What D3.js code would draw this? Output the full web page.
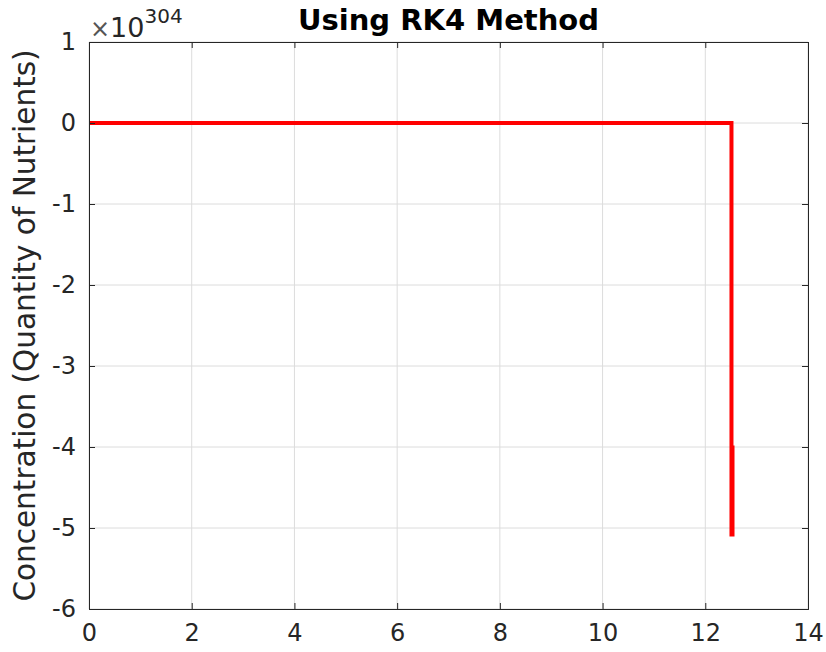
<!DOCTYPE html>
<html>
<head>
<meta charset="utf-8">
<script src="https://cdn.jsdelivr.net/npm/d3@7"></script>
<style>
  body { margin: 0; background: #fff; }
  svg text { font-family: "DejaVu Sans", sans-serif; fill: #262626; }
</style>
</head>
<body>
<div id="chart"></div>
<script>
// time values and concentration (in units of 1e304)
const timeVals = [0, 12.5, 12.51, 12.51, 12.53, 12.53]
const concVals = [0, 0, 0, -5.08, -5.08, -3.98]
const xTicks = [0, 2, 4, 6, 8, 10, 12, 14]
const yTicks = [1, 0, -1, -2, -3, -4, -5, -6]

const width = 826
const height = 652
const margin = {top: 42, right: 18, bottom: 43, left: 89}

const svg = d3.select('#chart').append('svg')
  .attr('width', width)
  .attr('height', height)

const x = d3.scaleLinear().domain([0, 14]).range([margin.left, width - margin.right])
const y = d3.scaleLinear().domain([-6, 1]).range([height - margin.bottom, margin.top])

// grid
const grid = svg.append('g').attr('class', 'grid')
grid.selectAll('line.vx').data(xTicks).enter().append('line')
  .attr('x1', d => x(d)).attr('x2', d => x(d))
  .attr('y1', y(1)).attr('y2', y(-6))
  .attr('stroke', '#dcdcdc').attr('stroke-width', 1)
grid.selectAll('line.hy').data(yTicks).enter().append('line')
  .attr('y1', d => y(d)).attr('y2', d => y(d))
  .attr('x1', x(0)).attr('x2', x(14))
  .attr('stroke', '#dcdcdc').attr('stroke-width', 1)

// data line
const line = d3.line().x((d, i) => x(timeVals[i])).y(d => y(d))
svg.append('path')
  .datum(concVals)
  .attr('d', line)
  .attr('fill', 'none')
  .attr('stroke', '#ff0000')
  .attr('stroke-width', 4)

// axes
const fmt = d => String(d)
const xAxis = d3.axisBottom(x).tickValues(xTicks).tickSize(-6).tickPadding(12).tickFormat(fmt)
const yAxis = d3.axisLeft(y).tickValues(yTicks).tickSize(-6).tickPadding(12).tickFormat(fmt)

const gx = svg.append('g')
  .attr('transform', `translate(0, ${y(-6)})`)
  .call(xAxis)
gx.select('.domain').attr('stroke', '#262626')
gx.selectAll('.tick line').attr('stroke', '#262626')
gx.selectAll('text').attr('font-size', 24).attr('y', 10).attr('dy', '0.9em').style('fill', '#262626')

const gy = svg.append('g')
  .attr('transform', `translate(${x(0)}, 0)`)
  .call(yAxis)
gy.select('.domain').attr('stroke', '#262626')
gy.selectAll('.tick line').attr('stroke', '#262626')
gy.selectAll('text').attr('font-size', 24).attr('x', -13).style('fill', '#262626')

// top and right box edges with ticks
const gxTop = svg.append('g')
  .attr('transform', `translate(0, ${y(1)})`)
  .call(d3.axisTop(x).tickValues(xTicks).tickSize(-6).tickFormat(''))
gxTop.select('.domain').attr('stroke', '#262626')
gxTop.selectAll('.tick line').attr('stroke', '#262626')

const gyRight = svg.append('g')
  .attr('transform', `translate(${x(14)}, 0)`)
  .call(d3.axisRight(y).tickValues(yTicks).tickSize(-6).tickFormat(''))
gyRight.select('.domain').attr('stroke', '#262626')
gyRight.selectAll('.tick line').attr('stroke', '#262626')

// exponent label
const expo = svg.append('text')
  .attr('x', 90)
  .attr('y', 37)
  .attr('font-size', 27)
expo.append('tspan').attr('font-size', 24).style('fill', '#555').text('\u00d7')
expo.append('tspan').text('10')
expo.append('tspan').attr('font-size', 20).attr('dy', -14).text('304')

// title
svg.append('text')
  .attr('x', (x(0) + x(14)) / 2)
  .attr('y', 30)
  .attr('text-anchor', 'middle')
  .attr('font-size', 29)
  .attr('font-weight', 'bold')
  .style('fill', '#000')
  .text('Using RK4 Method')

// y label
svg.append('text')
  .attr('transform', `translate(35, ${(y(1) + y(-6)) / 2}) rotate(-90)`)
  .attr('text-anchor', 'middle')
  .attr('font-size', 29.5)
  .text('Concentration (Quantity of Nutrients)')
</script>
</body>
</html>
